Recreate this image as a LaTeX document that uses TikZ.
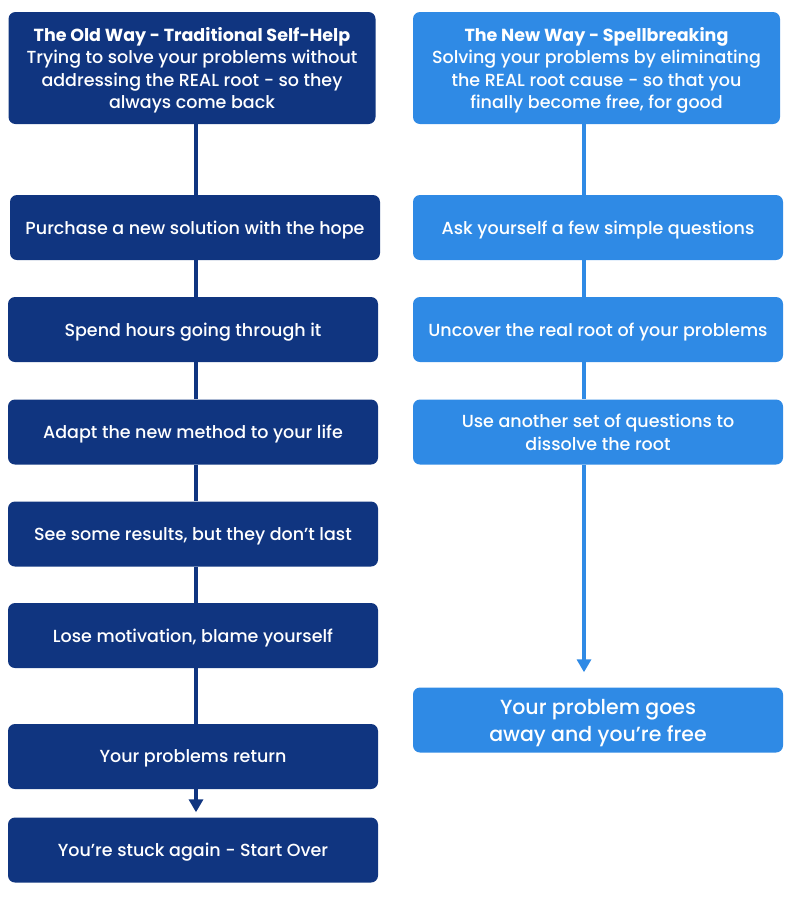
\documentclass[tikz,border=0pt]{standalone}
\usepackage{fontspec}
\setmainfont{Poppins}[UprightFont={* Medium}, BoldFont={* Bold}]
\usepackage{tikz}
\usetikzlibrary{positioning,arrows.meta}
\definecolor{oldblue}{RGB}{16,53,128}
\definecolor{newblue}{RGB}{47,138,229}

\begin{document}
\begin{tikzpicture}[x=1pt,y=-1pt]
            \tikzstyle{stage}=[rectangle, rounded corners=7pt, minimum width=370pt, minimum height=65pt, inner sep=2pt, text depth=0pt, text=white, align=center, font=\fontsize{17.5}{22.5}\selectfont]
            \tikzstyle{oldstage}=[stage, fill=oldblue]
            \tikzstyle{newstage}=[stage, fill=newblue]
            \tikzstyle{header}=[minimum width=367pt, minimum height=112pt]
            \tikzstyle{connect}=[line width=4.5pt]
            \useasboundingbox (0,0) rectangle (800,903);
            % old way
            \node[oldstage, header] (OH) at (192,68){{\bfseries The Old Way - Traditional Self-Help}\\Trying to solve your problems without\\addressing the REAL root - so they\\always come back};
            \node[oldstage] (O1) at (195,227.5){Purchase a new solution with the hope};
            \node[oldstage] (O2) at (193,329.5){Spend hours going through it};
            \node[oldstage] (O3) at (193,432){Adapt the new method to your life};
            \node[oldstage] (O4) at (193,534){See some results, but they don’t last};
            \node[oldstage] (O5) at (193,635.5){Lose motivation, blame yourself};
            \node[oldstage] (O6) at (193,756.5){Your problems return};
            \node[oldstage] (O7) at (193,850){You’re stuck again - Start Over};
            % new way
            \node[newstage, header] (NH) at (596.5,68){{\bfseries The New Way - Spellbreaking}\\Solving your problems by eliminating\\the REAL root cause - so that you\\finally become free, for good};
            \node[newstage] (N1) at (598,227.5){Ask yourself a few simple questions};
            \node[newstage] (N2) at (598,329.5){Uncover the real root of your problems};
            \node[newstage] (N3) at (598,432){Use another set of questions to\\dissolve the root};
            \node[newstage, font=\fontsize{20.5}{27}\selectfont] (N4) at (598,720){Your problem goes\\away and you’re free};
            \path[-] ([xshift=4pt]OH.south) edge [connect, oldblue] ([xshift=1pt]O1.north);
            \path[-] ([xshift=1pt]O1.south) edge [connect, oldblue] ([xshift=3pt]O2.north);
            \path[-] ([xshift=3pt]O2.south) edge [connect, oldblue] ([xshift=3pt]O3.north);
            \path[-] ([xshift=3pt]O3.south) edge [connect, oldblue] ([xshift=3pt]O4.north);
            \path[-] ([xshift=3pt]O4.south) edge [connect, oldblue] ([xshift=3pt]O5.north);
            \path[-] ([xshift=3pt]O5.south) edge [connect, oldblue] ([xshift=3pt]O6.north);
            \path[-{Triangle[width=14pt,length=13pt]}] ([xshift=3pt]O6.south) edge [connect, oldblue, shorten >=5pt] ([xshift=3pt]O7.north);

            \path[-] ([xshift=-12.5pt]NH.south) edge [connect, newblue] ([xshift=-14pt]N1.north);
            \path[-] ([xshift=-14pt]N1.south) edge [connect, newblue] ([xshift=-14pt]N2.north);
            \path[-] ([xshift=-14pt]N2.south) edge [connect, newblue] ([xshift=-14pt]N3.north);
            \path[-{Triangle[width=14pt,length=13pt]}] ([xshift=-14pt]N3.south) edge [connect, newblue, shorten >=15pt] ([xshift=-14pt]N4.north);
        \end{tikzpicture}
\end{document}
